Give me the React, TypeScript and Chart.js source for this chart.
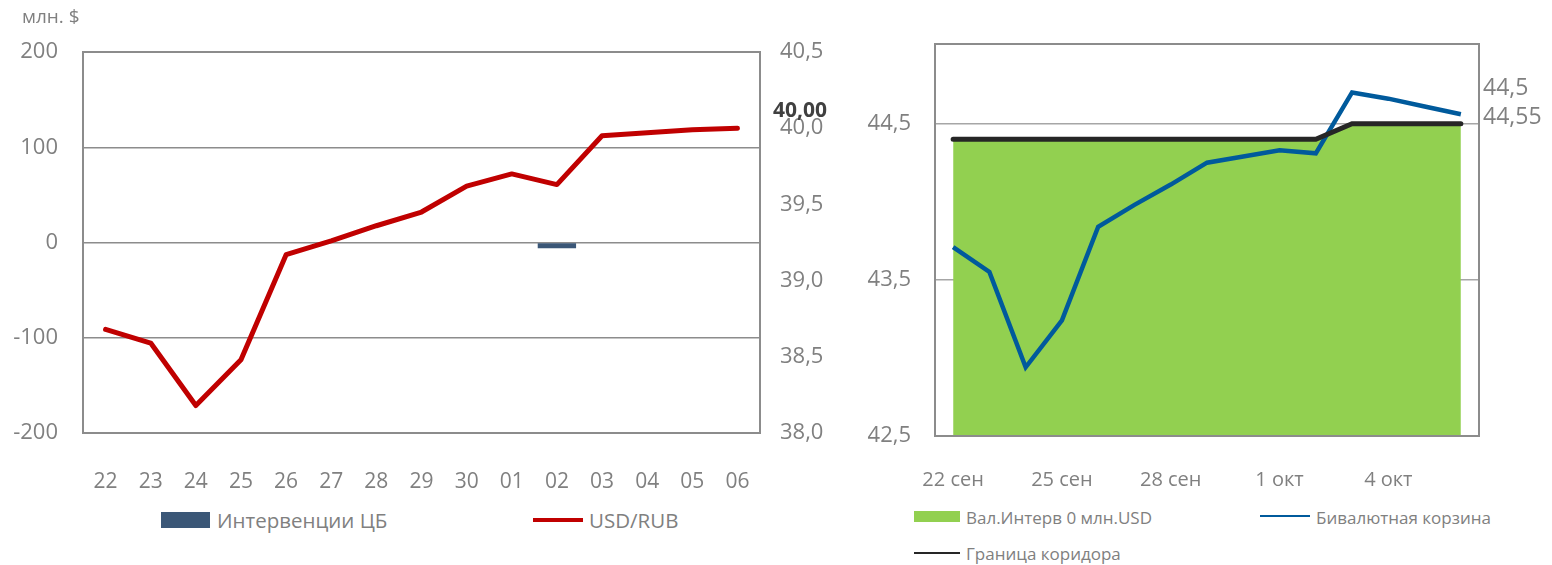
import React, { useEffect, useRef } from "react";
import { Chart, registerables } from "chart.js";

Chart.register(...registerables);

// ---------- Left chart data ----------
const leftDays = ["22", "23", "24", "25", "26", "27", "28", "29", "30", "01", "02", "03", "04", "05", "06"];
const interventions = [0, 0, 0, 0, 0, 0, 0, 0, 0, 0, -6, 0, 0, 0, 0];
const usdRub = [38.68, 38.59, 38.18, 38.48, 39.17, 39.26, 39.36, 39.45, 39.62, 39.7, 39.63, 39.95, 39.97, 39.99, 40.0];
const leftLastLabel = "40,00";

// ---------- Right chart data ----------
const rightDates = [
  "22 сен", "23 сен", "24 сен", "25 сен", "26 сен", "27 сен", "28 сен", "29 сен", "30 сен",
  "1 окт", "2 окт", "3 окт", "4 окт", "5 окт", "6 окт",
];
const basket = [43.71, 43.55, 42.94, 43.24, 43.84, 43.98, 44.11, 44.25, 44.29, 44.33, 44.31, 44.7, 44.66, 44.61, 44.56];
const corridor = [44.4, 44.4, 44.4, 44.4, 44.4, 44.4, 44.4, 44.4, 44.4, 44.4, 44.4, 44.5, 44.5, 44.5, 44.5];
const rightYTicks = [42.5, 43.5, 44.5];
const rightEndLabels = ["44,5", "44,55"];

const FONT = "'Open Sans', sans-serif";
const GRAY = "#808080";

const framePlugin = (color: string, width: number) => ({
  id: "frame",
  afterDatasetsDraw(chart: any) {
    const { ctx, chartArea: a } = chart;
    ctx.save();
    ctx.strokeStyle = color;
    ctx.lineWidth = width;
    ctx.strokeRect(a.left, a.top, a.right - a.left, a.bottom - a.top);
    ctx.restore();
  },
});

function LeftChart() {
  const ref = useRef<HTMLCanvasElement>(null);
  useEffect(() => {
    const endLabel = {
      id: "endLabel",
      afterDatasetsDraw(chart: any) {
        const meta = chart.getDatasetMeta(1);
        const pt = meta.data[meta.data.length - 1];
        const ctx = chart.ctx;
        ctx.save();
        ctx.font = `bold 21px ${FONT}`;
        ctx.fillStyle = "#404040";
        ctx.textAlign = "left";
        ctx.textBaseline = "middle";
        ctx.fillText(leftLastLabel, chart.chartArea.right + 13, pt.y - 17);
        ctx.restore();
      },
    };
    const chart = new Chart(ref.current!, {
      type: "bar",
      data: {
        labels: leftDays,
        datasets: [
          {
            type: "bar",
            label: "Интервенции ЦБ",
            data: interventions,
            backgroundColor: "#3B5777",
            borderWidth: 0,
            yAxisID: "y",
            categoryPercentage: 1,
            barPercentage: 0.85,
            order: 1,
          },
          {
            type: "line",
            label: "USD/RUB",
            data: usdRub,
            borderColor: "#C00000",
            borderWidth: 5,
            borderCapStyle: "round",
            borderJoinStyle: "round",
            pointRadius: 0,
            tension: 0,
            yAxisID: "y1",
            order: 0,
          } as any,
        ],
      },
      options: {
        animation: false,
        responsive: false,
        layout: { padding: { left: 0, right: 0, top: 52, bottom: 7 } },
        plugins: { legend: { display: false }, tooltip: { enabled: false } },
        scales: {
          x: {
            grid: { display: false },
            border: { display: false },
            ticks: {
              autoSkip: false,
              maxRotation: 0,
              minRotation: 0,
              padding: 28,
              color: GRAY,
              font: { family: FONT, size: 21 },
            },
            afterFit(s: any) {
              s.height = 60;
            },
          },
          y: {
            min: -200,
            max: 200,
            ticks: { stepSize: 100, padding: 25, color: GRAY, font: { family: FONT, size: 22 } },
            grid: { color: "#8c8c8c", lineWidth: 1.5, drawTicks: false },
            border: { display: false },
            afterFit(s: any) {
              s.width = 83;
            },
          },
          y1: {
            position: "right",
            min: 38,
            max: 40.5,
            ticks: {
              stepSize: 0.5,
              padding: 20,
              color: GRAY,
              font: { family: FONT, size: 22 },
              callback: (v: any) => Number(v).toFixed(1).replace(".", ","),
            },
            grid: { display: false, drawTicks: false },
            border: { display: false },
            afterFit(s: any) {
              s.width = 100;
            },
          },
        },
      } as any,
      plugins: [framePlugin("#8c8c8c", 2), endLabel],
    });
    return () => chart.destroy();
  }, []);
  return <canvas ref={ref} width={860} height={500} style={{ position: "absolute", left: 0, top: 0 }} />;
}

function RightChart() {
  const ref = useRef<HTMLCanvasElement>(null);
  useEffect(() => {
    const endLabels = {
      id: "endLabels",
      afterDatasetsDraw(chart: any) {
        const mb = chart.getDatasetMeta(1);
        const mc = chart.getDatasetMeta(2);
        const pb = mb.data[mb.data.length - 1];
        const pc = mc.data[mc.data.length - 1];
        const ctx = chart.ctx;
        ctx.save();
        ctx.font = `23px ${FONT}`;
        ctx.fillStyle = GRAY;
        ctx.textAlign = "left";
        ctx.textBaseline = "middle";
        const x = chart.chartArea.right + 4;
        ctx.fillText(rightEndLabels[0], x, pb.y - 26);
        ctx.fillText(rightEndLabels[1], x, pc.y - 6);
        ctx.restore();
      },
    };
    const chart = new Chart(ref.current!, {
      type: "line",
      data: {
        labels: rightDates,
        datasets: [
          {
            label: "Вал.Интерв 0 млн.USD",
            data: corridor,
            borderWidth: 0,
            backgroundColor: "#92D050",
            fill: "start",
            pointRadius: 0,
            order: 3,
          },
          {
            label: "Бивалютная корзина",
            data: basket,
            borderColor: "#005A9C",
            borderWidth: 4.5,
            pointRadius: 0,
            fill: false,
            order: 2,
          },
          {
            label: "Граница коридора",
            data: corridor,
            borderColor: "#262626",
            borderWidth: 5,
            borderCapStyle: "round",
            pointRadius: 0,
            fill: false,
            order: 1,
          } as any,
        ],
      },
      options: {
        animation: false,
        responsive: false,
        layout: { padding: { left: 0, right: 73, top: 44, bottom: 4 } },
        plugins: { legend: { display: false }, tooltip: { enabled: false } },
        scales: {
          x: {
            offset: true,
            grid: { display: false },
            border: { display: false },
            ticks: {
              autoSkip: false,
              maxRotation: 0,
              minRotation: 0,
              padding: 24,
              color: GRAY,
              font: { family: FONT, size: 20 },
              callback: (_v: any, i: number) => (i % 3 === 0 ? rightDates[i] : ""),
            },
            afterFit(s: any) {
              s.height = 60;
            },
          },
          y: {
            min: 42.5,
            max: 45.01,
            afterBuildTicks(s: any) {
              s.ticks = rightYTicks.map((v) => ({ value: v }));
            },
            ticks: {
              padding: 24,
              color: GRAY,
              font: { family: FONT, size: 22 },
              callback: (v: any) => String(v).replace(".", ","),
            },
            grid: { color: "#a6a6a6", lineWidth: 1.5, drawTicks: false },
            border: { display: false },
            afterFit(s: any) {
              s.width = 75;
            },
          },
        },
      } as any,
      plugins: [framePlugin("#8c8c8c", 2), endLabels],
    });
    return () => chart.destroy();
  }, []);
  return <canvas ref={ref} width={692} height={500} style={{ position: "absolute", left: 860, top: 0 }} />;
}

const txt = (left: number, cy: number, size: number, text: string) => (
  <div
    style={{
      position: "absolute",
      left,
      top: cy,
      transform: "translateY(-50%)",
      fontSize: size,
      lineHeight: 1,
      color: GRAY,
      whiteSpace: "nowrap",
      fontFamily: FONT,
    }}
  >
    {text}
  </div>
);

const box = (left: number, top: number, width: number, height: number, color: string) => (
  <div style={{ position: "absolute", left, top, width, height, background: color }} />
);

export default function App() {
  return (
    <div
      style={{
        position: "absolute",
        left: 0,
        top: 0,
        width: 1552,
        height: 565,
        background: "#fff",
        overflow: "hidden",
        fontFamily: FONT,
      }}
    >
      <LeftChart />
      <RightChart />
      {txt(22, 16, 19, "млн. $")}
      {box(161, 512, 49, 16, "#3B5777")}
      {txt(217, 520, 20.5, "Интервенции ЦБ")}
      {box(533, 518, 50, 4, "#C00000")}
      {txt(589, 520, 20.5, "USD/RUB")}
      {box(914, 511, 46, 11, "#92D050")}
      {txt(966, 517, 17, "Вал.Интерв 0 млн.USD")}
      {box(1260, 515, 50, 2, "#005A9C")}
      {txt(1316, 517, 17, "Бивалютная корзина")}
      {box(914, 552, 46, 2, "#262626")}
      {txt(966, 553, 17, "Граница коридора")}
    </div>
  );
}
